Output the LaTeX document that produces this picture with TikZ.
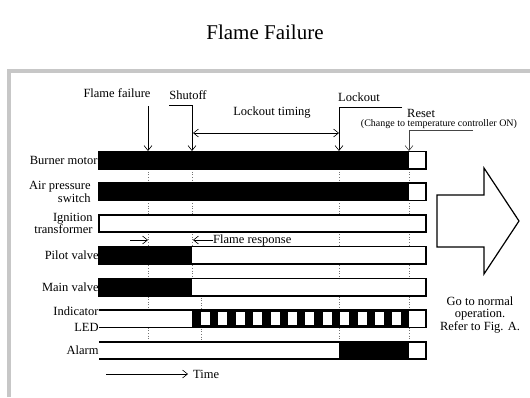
\documentclass[tikz,border=0pt]{standalone}
\usepackage{fontspec}
\setmainfont{Liberation Serif}
\usetikzlibrary{arrows.meta, positioning, calc}
\definecolor{framegray}{rgb}{0.78,0.78,0.78}
\definecolor{guidegray}{rgb}{0.45,0.45,0.45}

\begin{document}
\begin{tikzpicture}[x=1pt, y=-1pt,
    txt/.style={inner sep=0pt, font=\fontsize{12.5}{12.5}\selectfont},
    lbl/.style={txt, align=right},
    sig/.style={minimum width=327pt, minimum height=17pt, inner sep=0pt, fill=white},
    edge/.style={line width=1.6pt},
    guide/.style={guidegray, dotted, line width=0.6pt},
    arrow/.style={-{Straight Barb[length=5pt, width=8pt]}, line width=0.6pt}
]
\useasboundingbox (0,0) rectangle (530,397);

% frame and title
\draw[framegray, line width=4pt] (9,397) -- (9,71) -- (530,71);
\node[font=\fontsize{21}{21}\selectfont] (title) at (265,32) {Flame Failure};

% event times
\coordinate (fail) at (148,151);
\coordinate (shut) at (192,151);
\coordinate (lock) at (339,151);
\coordinate (reset) at (409,151);
\coordinate (blink) at (201,295);
\coordinate (guideend) at (0,342);

% dotted time guides
\draw[guide] (fail) -- (fail |- guideend);
\draw[guide] (shut) -- (shut |- blink);
\draw[guide] (blink) -- (blink |- guideend);
\draw[guide] (lock) -- (lock |- guideend);
\draw[guide] (reset) -- (reset |- guideend);

% signal rows
\node[sig] (burner) at (262.5,160) {};
\node[sig] (air) at (262.5,191.75) {};
\node[sig] (ignition) at (262.5,223.5) {};
\node[sig] (pilot) at (262.5,255.25) {};
\node[sig] (main) at (262.5,287) {};
\node[sig] (led) at (262.5,318.75) {};
\node[sig] (alarm) at (262.5,350.5) {};

\fill (burner.north west) rectangle (reset |- burner.south);
\fill (air.north west) rectangle (reset |- air.south);
\fill (pilot.north west) rectangle (shut |- pilot.south);
\fill (main.north west) rectangle (shut |- main.south);
\fill (led.north -| shut) rectangle (reset |- led.south);
\foreach \k in {0,...,11}
    \fill[white] ($(led.north -| blink)+(\k*17.4,1.6)$) rectangle ++(8.9,13.8);
\fill (alarm.north -| lock) rectangle (reset |- alarm.south);

\foreach \row in {burner, air, ignition, pilot, main}
    \draw[edge] (\row.north west) rectangle (\row.south east);
\foreach \row in {led, alarm}
    \draw[edge] (\row.north west) -- (\row.north east) -- (\row.south east) -- (\row.south west);

% row names
\node[lbl, left=1pt of burner] {Burner motor};
\node[lbl, left=8pt of air] {Air pressure\\switch};
\node[lbl, left=6pt of ignition] {Ignition\\transformer};
\node[lbl, left=0pt of pilot] {Pilot valve};
\node[lbl, left=0pt of main] {Main valve};
\node[lbl, left=0pt of led, font=\fontsize{12.5}{16}\selectfont] {Indicator\\LED};
\node[lbl, left=0pt of alarm] {Alarm};

% events
\node[txt] (failtxt) at (117,93) {Flame failure};
\draw[arrow] ([yshift=45pt]fail) -- (fail);

\node[txt] (shuttxt) at (188,95) {Shutoff};
\draw[arrow] ([yshift=-5.5pt]shuttxt.south west) -| (shut);

\node[txt] (timingtxt) at (272,113) {Lockout timing};
\draw[{Straight Barb[length=5pt, width=8pt]}-{Straight Barb[length=5pt, width=8pt]}, line width=0.6pt]
    ([yshift=18pt, xshift=1pt]shut) -- ([yshift=18pt]lock);

\node[txt] (locktxt) at (359,97) {Lockout};
\coordinate (lockknee) at (402,107);
\draw[arrow] (lockknee) -| (lock);

\node[txt, anchor=west] (resettxt) at (407,113) {Reset};
\node[inner sep=0pt, font=\fontsize{10}{10}\selectfont] (resetnote) at (439,124.5) {(Change to temperature controller ON)};
\coordinate (resetknee) at (473,130);
\draw[arrow, guidegray!60!black] (resetknee) -| (reset);

% flame response
\node[txt, anchor=west] (resptxt) at (213,240) {Flame response};
\draw[arrow] ([xshift=-18pt]fail |- resptxt.west) -- (fail |- resptxt.west);
\draw[arrow] (resptxt.west) -- ([xshift=1pt]shut |- resptxt.west);

% return to normal
\draw[line width=1.2pt, fill=white] (437,195) -- (484,195) -- (484,168) -- (519,221)
    -- (484,274) -- (484,247) -- (437,247) -- cycle;
\node[txt, align=center] (gonote) at (480,315) {Go to normal\\operation.\\Refer to Fig. A.};

% time axis
\node[txt, anchor=west] (timetxt) at (193,374) {Time};
\coordinate (t0) at (106,374);
\draw[arrow, shorten >=5pt] (t0) -- (timetxt);

\end{tikzpicture}
\end{document}
